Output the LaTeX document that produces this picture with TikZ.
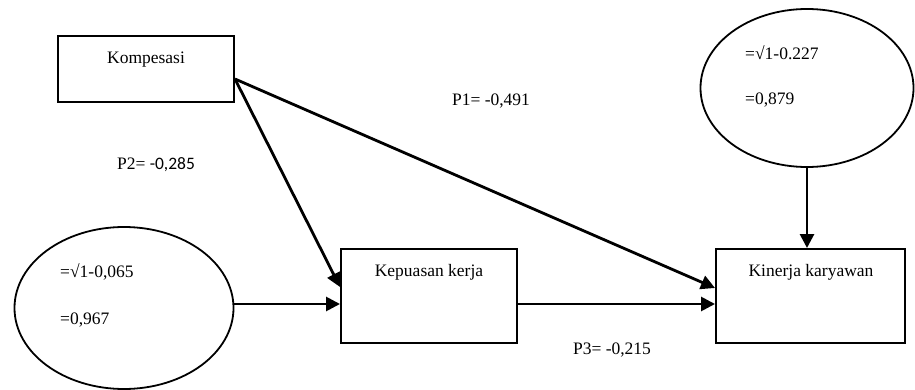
\documentclass[tikz,border=0pt]{standalone}
\usepackage{fontspec}
\setmainfont{Liberation Serif}
\newfontfamily\calib{Carlito}
\usetikzlibrary{arrows.meta,shapes.geometric,calc}
\begin{document}
\begin{tikzpicture}[x=1pt,y=-1pt,
  box/.style={draw,line width=2pt,rectangle,inner sep=0pt},
  oval/.style={draw,line width=1.8pt,ellipse,inner sep=0pt},
  txt/.style={inner sep=0pt,font=\fontsize{17.5}{19}\selectfont},
  ltxt/.style={txt,anchor=west},
  arr/.style={line width=2.8pt,-{Triangle[length=14pt,width=14pt]}}]
\useasboundingbox (0,0) rectangle (915,390);
\node[box,minimum width=176pt,minimum height=66pt] (komp) at (146,69) {};
\node[txt] (kompT) at (146,60) {Kompesasi};
\node[box,minimum width=176pt,minimum height=94pt] (kep) at (429,296) {};
\node[txt] (kepT) at (429,272) {Kepuasan kerja};
\node[box,minimum width=189pt,minimum height=94pt] (kin) at (810.5,296) {};
\node[txt] (kinT) at (811,272) {Kinerja karyawan};
\node[oval,minimum width=213pt,minimum height=158pt] (eR) at (807,88) {};
\node[ltxt] (eR1) at (745,53) {=√1-0.227};
\node[ltxt] (eR2) at (745,100) {=0,879};
\node[oval,minimum width=219pt,minimum height=162pt] (eL) at (124,308) {};
\node[ltxt] (eL1) at (60,272) {=√1-0,065};
\node[ltxt] (eL2) at (60,320) {=0,967};
\node[txt] (p1) at (491,101) {P1= -0,491};
\node[txt] (p2) at (156,165) {P2= {\calib -0,285}};
\node[txt] (p3) at (612,350) {P3= -0,215};
\coordinate (ks) at ([yshift=-10pt]komp.east);
\draw[arr] (ks) -- ([yshift=9pt]kep.west);
\draw[arr] (ks) -- ([yshift=8pt]kin.west);
\draw[arr] ([yshift=-8pt]kep.west -| eL.east) -- ([yshift=-8pt]kep.west);
\draw[arr] ([yshift=-8pt]kep.east) -- ([yshift=-8pt]kin.west);
\draw[arr] (eR.south) -- (eR.south |- kin.north);
\end{tikzpicture}
\end{document}
